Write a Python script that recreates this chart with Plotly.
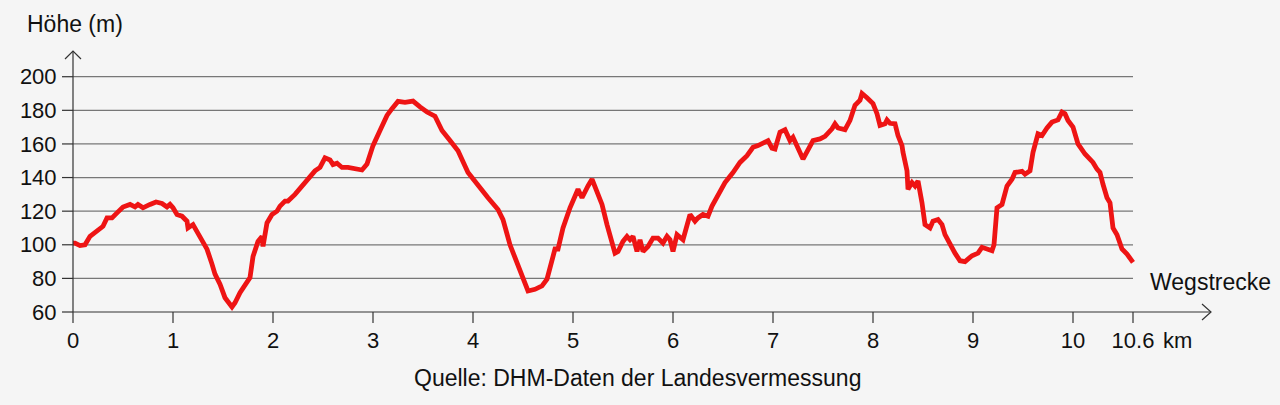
import plotly.graph_objects as go

# ---- data ----
distance_km = [
    0.00, 0.02, 0.07, 0.12, 0.17, 0.22, 0.30, 0.34, 0.39, 0.44,
    0.50, 0.57, 0.62, 0.65, 0.70, 0.77, 0.83, 0.89, 0.94, 0.97,
    1.00, 1.04, 1.09, 1.14, 1.15, 1.20, 1.25, 1.30, 1.34, 1.39,
    1.42, 1.47, 1.52, 1.59, 1.62, 1.67, 1.72, 1.77, 1.80, 1.85,
    1.89, 1.90, 1.94, 1.99, 2.04, 2.07, 2.12, 2.15, 2.22, 2.29,
    2.35, 2.42, 2.47, 2.52, 2.57, 2.60, 2.64, 2.69, 2.75, 2.82,
    2.89, 2.94, 3.00, 3.07, 3.14, 3.19, 3.25, 3.32, 3.40, 3.47,
    3.54, 3.62, 3.69, 3.77, 3.85, 3.95, 4.05, 4.15, 4.25, 4.30,
    4.37, 4.45, 4.50, 4.55, 4.62, 4.69, 4.74, 4.79, 4.82, 4.85,
    4.90, 4.97, 5.02, 5.05, 5.09, 5.12, 5.15, 5.19, 5.24, 5.29,
    5.34, 5.39, 5.42, 5.45, 5.50, 5.54, 5.57, 5.60, 5.64, 5.67,
    5.70, 5.75, 5.80, 5.85, 5.90, 5.94, 5.97, 6.00, 6.04, 6.10,
    6.17, 6.22, 6.25, 6.30, 6.35, 6.39, 6.45, 6.52, 6.60, 6.67,
    6.74, 6.80, 6.85, 6.90, 6.95, 6.99, 7.02, 7.07, 7.12, 7.17,
    7.20, 7.30, 7.35, 7.40, 7.47, 7.52, 7.59, 7.62, 7.65, 7.72,
    7.77, 7.82, 7.87, 7.89, 7.94, 8.00, 8.04, 8.07, 8.12, 8.14,
    8.17, 8.22, 8.25, 8.29, 8.30, 8.34, 8.35, 8.39, 8.42, 8.45,
    8.49, 8.52, 8.57, 8.60, 8.65, 8.69, 8.72, 8.77, 8.82, 8.87,
    8.92, 8.99, 9.05, 9.09, 9.14, 9.19, 9.21, 9.24, 9.29, 9.34,
    9.39, 9.42, 9.49, 9.52, 9.57, 9.60, 9.65, 9.69, 9.74, 9.79,
    9.85, 9.89, 9.92, 9.95, 10.00, 10.05, 10.12, 10.17, 10.20, 10.24,
    10.27, 10.30, 10.34, 10.37, 10.40, 10.44, 10.49, 10.54, 10.60,
]
elevation_m = [
    101, 101, 99.5, 100, 105, 107, 111, 116, 116, 119,
    122.5, 124, 122.5, 124, 122, 124, 125.5, 124.6, 122.5, 124,
    122, 118, 117, 114, 110, 112, 107, 101, 97.4, 88.5,
    82.5, 76.5, 68.5, 63, 65.5, 71.5, 75.5, 80.5, 93, 102,
    105, 99, 113, 118, 120, 123, 126, 126, 130, 135,
    140, 144, 146, 151.7, 150.5, 147.7, 148.5, 146, 146, 145.5,
    144.5, 148, 159, 168, 177, 181, 185.3, 184.7, 185.5, 182,
    179, 176.5, 168, 162, 156, 143, 135, 128, 121, 115,
    100, 88, 80, 72.5, 73.5, 75.5, 79.5, 90.5, 97.5, 97.5,
    110, 122, 130, 133, 128, 132, 135, 139, 131, 124,
    112, 100, 95, 96, 102, 105, 103, 105, 96, 103,
    96, 99, 104, 104, 101, 105, 103, 96, 106, 103,
    118, 114, 116, 118, 117, 123, 130, 137, 143, 149,
    153, 158, 159, 160.5, 162, 157.5, 157, 167, 168.5, 162,
    164, 151, 156, 162, 163, 164.5, 169, 172, 169.5, 168.5,
    174, 183, 186, 190, 187.5, 184, 178, 171, 172, 174.3,
    172.3, 172, 165, 159, 155, 144, 133, 137, 135, 138,
    125, 112, 110, 114, 115, 112, 106, 100, 95, 90.5,
    90, 93.5, 95, 98.5, 97.5, 96.5, 100, 122, 124, 135,
    139, 143, 143.7, 142, 144, 155, 166, 165, 169.5, 173,
    174.3, 179, 178, 174, 170, 160, 154, 151, 149, 145,
    143, 136, 128, 125, 110, 106, 97.5, 94.5, 89.5,
]
assert len(distance_km) == len(elevation_m)

x_tick_vals = [0, 1, 2, 3, 4, 5, 6, 7, 8, 9, 10, 10.6]
x_tick_text = ["0", "1", "2", "3", "4", "5", "6", "7", "8", "9", "10", "10.6"]
y_tick_vals = [60, 80, 100, 120, 140, 160, 180, 200]
y_tick_text = [str(v) for v in y_tick_vals]

route_end = 10.6
y_min, y_max = 60, 215.3
x_max = 11.38

# ---- layout geometry ----
W, H = 1280, 405
ML, MR, MT, MB = 73, 69, 51, 93
PW, PH = W - ML - MR, H - MT - MB
TICK = 11  # drawn tick length in px

def px_x(p):  # pixel -> paper fraction
    return (p - ML) / PW

def px_y(p):
    return (H - MB - p) / PH

def dx(v):  # data x -> paper
    return v / x_max

def dy(v):  # data y -> paper
    return (v - y_min) / (y_max - y_min)

BG = "#f5f5f5"
FONT = "Liberation Sans, Arial, Helvetica, sans-serif"
TXT = "#111111"
AX = "#333333"
GRID = "#777777"

fig = go.Figure()
fig.add_trace(go.Scatter(
    x=distance_km, y=elevation_m, mode="lines",
    line=dict(color="#ee1414", width=4.8),
    hoverinfo="skip", showlegend=False, cliponaxis=False,
))

shapes = []
# gridlines (only up to route end)
for v in y_tick_vals[1:]:
    shapes.append(dict(type="line", xref="paper", yref="paper", x0=0, x1=dx(route_end),
                       y0=dy(v), y1=dy(v), line=dict(color=GRID, width=1.2), layer="below"))
# tick marks
for v in x_tick_vals:
    shapes.append(dict(type="line", xref="paper", yref="paper", x0=dx(v), x1=dx(v),
                       y0=0, y1=-TICK / PH, line=dict(color=AX, width=1.2)))
for v in y_tick_vals:
    shapes.append(dict(type="line", xref="paper", yref="paper", x0=-TICK / PW, x1=0,
                       y0=dy(v), y1=dy(v), line=dict(color=AX, width=1.2)))
# axis lines
shapes.append(dict(type="line", xref="paper", yref="paper", x0=0, x1=1, y0=0, y1=0,
                   line=dict(color=AX, width=1.2), layer="above"))
shapes.append(dict(type="line", xref="paper", yref="paper", x0=0, x1=0, y0=0, y1=1,
                   line=dict(color=AX, width=1.2), layer="above"))
# arrow heads
ax_px, ay_px = 9.0 / PW, 8.0 / PH
shapes.append(dict(type="path", xref="paper", yref="paper",
                   path=f"M {1 - ax_px},{ay_px} L 1,0 L {1 - ax_px},{-ay_px}",
                   line=dict(color=AX, width=1.2)))
bx_px, by_px = 8.0 / PW, 8.0 / PH
shapes.append(dict(type="path", xref="paper", yref="paper",
                   path=f"M {-bx_px},{1 - by_px} L 0,1 L {bx_px},{1 - by_px}",
                   line=dict(color=AX, width=1.2)))

annotations = [
    dict(text="Höhe (m)", xref="paper", yref="paper", x=px_x(25), y=px_y(24),
         xanchor="left", yanchor="middle", showarrow=False,
         font=dict(family=FONT, size=23, color=TXT)),
    dict(text="Wegstrecke", xref="paper", yref="paper", x=px_x(1148), y=px_y(282),
         xanchor="left", yanchor="middle", showarrow=False,
         font=dict(family=FONT, size=23, color=TXT)),
    dict(text="km", xref="paper", yref="paper", x=px_x(1161), y=px_y(340),
         xanchor="left", yanchor="middle", showarrow=False,
         font=dict(family=FONT, size=22, color=TXT)),
    dict(text="Quelle: DHM-Daten der Landesvermessung", xref="paper", yref="paper",
         x=px_x(637), y=px_y(378), xanchor="center", yanchor="middle", showarrow=False,
         font=dict(family=FONT, size=23, color=TXT)),
]

fig.update_layout(
    width=W, height=H,
    margin=dict(l=ML, r=MR, t=MT, b=MB, pad=0),
    paper_bgcolor=BG, plot_bgcolor=BG,
    shapes=shapes, annotations=annotations,
    font=dict(family=FONT, size=22, color=TXT),
    xaxis=dict(range=[0, x_max], showgrid=False, zeroline=False, showline=False,
               tickmode="array", tickvals=x_tick_vals, ticktext=x_tick_text,
               ticks="outside", ticklen=9, tickwidth=1, tickcolor="rgba(0,0,0,0)",
               tickfont=dict(family=FONT, size=22, color=TXT), fixedrange=True),
    yaxis=dict(range=[y_min, y_max], showgrid=False, zeroline=False, showline=False,
               tickmode="array", tickvals=y_tick_vals, ticktext=y_tick_text,
               ticks="outside", ticklen=11, tickwidth=1, tickcolor="rgba(0,0,0,0)",
               tickfont=dict(family=FONT, size=22, color=TXT), fixedrange=True),
)

fig.write_html(
    "out.html",
    config={"displayModeBar": False},
    post_script="document.body.style.margin='0px';document.body.style.overflow='hidden';"
                "document.body.style.background='#f5f5f5';",
)
